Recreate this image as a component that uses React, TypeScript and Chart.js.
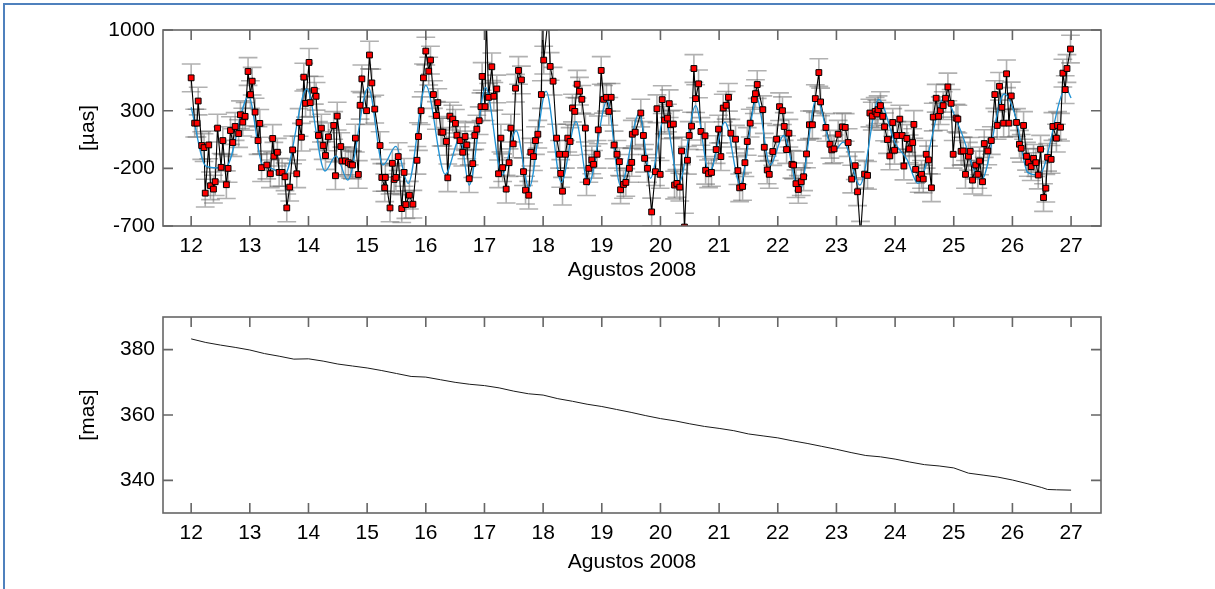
import React, { useEffect, useRef } from "react";
import { Chart, registerables } from "chart.js";

Chart.register(...registerables);

// ---------- Top panel: observed residuals (µas) ----------
const OBS_DAYS: number[] = [
  12.00, 12.06, 12.10, 12.12, 12.18, 12.22, 12.24, 12.30, 12.33, 12.38, 12.41, 12.45, 12.51, 12.54, 12.60, 12.63, 12.67, 12.71, 12.75, 12.81,
  12.84, 12.88, 12.92, 12.97, 13.01, 13.04, 13.09, 13.14, 13.17, 13.20, 13.29, 13.35, 13.39, 13.41, 13.47, 13.50, 13.55, 13.60, 13.63, 13.68,
  13.73, 13.80, 13.84, 13.88, 13.92, 13.95, 14.01, 14.03, 14.10, 14.13, 14.17, 14.22, 14.25, 14.29, 14.34, 14.43, 14.46, 14.49, 14.55, 14.57,
  14.63, 14.68, 14.72, 14.75, 14.80, 14.85, 14.88, 14.91, 14.99, 15.04, 15.08, 15.13, 15.22, 15.25, 15.30, 15.31, 15.39, 15.43, 15.46, 15.49,
  15.53, 15.59, 15.63, 15.66, 15.72, 15.78, 15.85, 15.875, 15.92, 15.96, 16.00, 16.05, 16.08, 16.13, 16.18, 16.205, 16.26, 16.29, 16.35, 16.375,
  16.41, 16.46, 16.505, 16.53, 16.585, 16.63, 16.67, 16.70, 16.74, 16.80, 16.835, 16.87, 16.91, 16.94, 16.96, 17.01, 17.03, 17.07, 17.125, 17.16,
  17.21, 17.24, 17.28, 17.31, 17.37, 17.42, 17.45, 17.49, 17.53, 17.58, 17.63, 17.665, 17.70, 17.755, 17.79, 17.835, 17.87, 17.91, 17.97, 17.99,
  18.01, 18.09, 18.12, 18.17, 18.23, 18.28, 18.30, 18.33, 18.38, 18.42, 18.46, 18.50, 18.54, 18.58, 18.62, 18.66, 18.72, 18.74, 18.78, 18.83,
  18.86, 18.92, 18.94, 18.99, 19.03, 19.08, 19.12, 19.16, 19.21, 19.26, 19.30, 19.32, 19.37, 19.41, 19.47, 19.51, 19.52, 19.57, 19.665, 19.71,
  19.73, 19.78, 19.85, 19.915, 19.94, 19.995, 20.03, 20.07, 20.12, 20.15, 20.17, 20.22, 20.24, 20.28, 20.33, 20.36, 20.41, 20.46, 20.49, 20.53,
  20.57, 20.60, 20.65, 20.69, 20.76, 20.77, 20.82, 20.87, 20.95, 20.99, 21.03, 21.07, 21.12, 21.16, 21.20, 21.28, 21.32, 21.35, 21.40, 21.44,
  21.48, 21.53, 21.60, 21.62, 21.65, 21.745, 21.77, 21.82, 21.855, 21.915, 21.98, 22.03, 22.08, 22.11, 22.15, 22.19, 22.24, 22.27, 22.31, 22.35,
  22.40, 22.44, 22.49, 22.54, 22.59, 22.64, 22.70, 22.73, 22.82, 22.89, 22.92, 22.96, 23.03, 23.10, 23.15, 23.20, 23.26, 23.32, 23.36, 23.41,
  23.48, 23.53, 23.57, 23.61, 23.66, 23.69, 23.71, 23.75, 23.79, 23.82, 23.87, 23.91, 23.96, 23.99, 24.03, 24.08, 24.12, 24.15, 24.20, 24.24,
  24.30, 24.32, 24.35, 24.41, 24.45, 24.48, 24.53, 24.57, 24.62, 24.65, 24.70, 24.74, 24.77, 24.82, 24.86, 24.90, 24.955, 24.99, 25.04, 25.07,
  25.125, 25.16, 25.20, 25.25, 25.28, 25.32, 25.375, 25.41, 25.44, 25.49, 25.52, 25.58, 25.64, 25.70, 25.74, 25.78, 25.82, 25.85, 25.90, 25.94,
  25.98, 26.07, 26.12, 26.15, 26.19, 26.24, 26.27, 26.32, 26.36, 26.40, 26.44, 26.48, 26.53, 26.57, 26.60, 26.66, 26.69, 26.75, 26.77, 26.82,
  26.86, 26.90, 26.93, 26.99,
];

const OBS_UAS: number[] = [
  585, 192, 192, 384, -2, -20, -415, 3, -351, -380, -316, 149, -191, 41, -342, -200, 128, 24, 163, 102,
  265, 201, 251, 640, 440, 556, 288, 41, 190, -194, -171, -247, 59, -95, -60, -235, -235, -273, -543, -363,
  -40, -247, 198, 70, 591, 364, 719, 370, 477, 425, 85, 149, -2, -89, 73, 172, -264, 253, -11, -136,
  -136, -151, -165, -171, 62, -253, 347, 576, 300, 783, 541, 314, -2, -279, -369, -279, -543, -156, -296, -279,
  -98, -549, -235, -514, -433, -511, -130, 76, 300, 585, 817, 643, 739, 440, 259, 370, 114, 114, 33, -282,
  253, 227, 190, 88, 41, -60, 76, 3, -290, -159, 85, 140, 213, 335, 597, 335, 1150, 416, 681, 425,
  489, -247, 62, -194, -380, -151, 149, 12, 495, 649, 567, -229, -389, -433, -60, -98, 41, 96, 440, 1150,
  739, 1120, 684, 556, 62, -78, -244, -398, -78, 62, 33, 323, 294, 530, 469, 399, 149, -316, -200, -127,
  -165, -78, 134, 649, 399, 416, 294, 416, 3, -78, -142, -386, -339, -322, -200, -148, 96, 114, 280, 85,
  -113, -200, -578, -229, 317, -252, 396, 219, 236, 361, 178, 184, -345, -331, -363, -49, -709, -130, 85, 166,
  666, 405, 533, 120, 82, -217, -247, -235, -37, 140, -98, 323, 347, 416, 105, 53, -220, -369, -357, -151,
  33, 192, 396, 448, 527, 309, -17, -214, -252, -54, 53, 335, 300, 163, -37, 105, -165, -171, -333, -383,
  -316, -273, -75, 178, 178, 405, 631, 376, 155, 9, -40, -31, 96, 160, 155, 24, -293, -177, -403, -780,
  -250, -261, 280, 253, 294, 271, 309, 344, 251, 160, 50, -92, 198, -43, 85, 227, 85, -180, 59, -31,
  24, 181, -209, -287, -252, -293, -78, -127, -369, 245, 408, 251, 300, 344, 408, 506, 364, -78, 236, 227,
  -52, -49, -252, -95, -52, -302, -171, -252, -136, -316, 15, -49, 41, 440, 172, 512, 329, 192, 620, 192,
  428, 198, 9, -26, 172, -95, -148, -185, -113, -151, -258, -34, -453, -372, -104, -122, 163, 62, 172, 157,
  626, 483, 666, 835,
];

const ERR_UAS = 120; // half-length of the vertical error bars
const CAP_DAYS = 0.16; // half-width of the error-bar caps

// Model curve (turning points)
const MODEL_DAYS: number[] = [
  12.00, 12.25, 12.45, 12.60, 12.98, 13.21, 13.35, 13.59, 13.97, 14.28, 14.47, 14.67, 15.02, 15.27, 15.49, 15.70,
  16.00, 16.33, 16.585, 16.74, 17.02, 17.30, 17.54, 17.76, 18.05, 18.31, 18.56, 18.77, 19.09, 19.32, 19.64, 19.83,
  20.07, 20.32, 20.60, 20.83, 21.10, 21.36, 21.64, 21.87, 22.10, 22.37, 22.66, 22.95, 23.12, 23.40, 23.72, 24.00,
  24.20, 24.39, 24.84, 25.10, 25.47, 25.86, 26.05, 26.26, 26.45, 26.915, 27.00,
];
const MODEL_UAS: number[] = [
  330, -180, -195, -185, 425, -165, -195, -258, 489, -223, -92, -302, 503, -171, -10, -330,
  520, -252, 62, -345, 503, -258, 126, -369, 469, -322, 207, -345, 387, -351, 280, -287,
  250, -322, 344, -238, 201, -340, 410, -171, 85, -403, 405, -54, 27, -345, 399, 20,
  -120, -331, 410, 150, -302, 445, 255, -235, -258, 492, 410,
];

// ---------- Bottom panel: drift (mas) ----------
const DRIFT_DAYS: number[] = [
  12.00, 12.25, 12.50, 12.75, 13.00, 13.25, 13.50, 13.75, 14.00, 14.25, 14.50, 14.75, 15.00, 15.25, 15.50, 15.75,
  16.00, 16.25, 16.50, 16.75, 17.00, 17.25, 17.50, 17.75, 18.00, 18.25, 18.50, 18.75, 19.00, 19.25, 19.50, 19.75,
  20.00, 20.25, 20.50, 20.75, 21.00, 21.25, 21.50, 21.75, 22.00, 22.25, 22.50, 22.75, 23.00, 23.25, 23.50, 23.75,
  24.00, 24.25, 24.50, 24.75, 25.00, 25.25, 25.50, 25.75, 26.00, 26.25, 26.50, 26.60, 26.75, 27.00,
];
const DRIFT_MAS: number[] = [
  383.3, 382.2, 381.4, 380.7, 379.9, 378.8, 378.0, 377.1, 377.2, 376.5, 375.6, 375.0, 374.4, 373.6, 372.7, 371.8,
  371.6, 370.8, 370.0, 369.4, 369.0, 368.3, 367.3, 366.5, 366.1, 365.0, 364.2, 363.3, 362.6, 361.7, 360.8, 359.8,
  358.9, 358.2, 357.3, 356.5, 355.9, 355.2, 354.2, 353.6, 353.0, 352.1, 351.3, 350.4, 349.5, 348.5, 347.6, 347.2,
  346.5, 345.6, 344.8, 344.4, 343.8, 342.2, 341.6, 341.0, 340.1, 339.0, 337.8, 337.2, 337.1, 337.0,
];

const X_TICKS: number[] = [12, 13, 14, 15, 16, 17, 18, 19, 20, 21, 22, 23, 24, 25, 26, 27];
const Y1_TICKS: number[] = [-700, -200, 300, 1000];
const Y2_TICKS: number[] = [340, 360, 380];
const X_LABEL = "Agustos 2008";

const FONT = '"Liberation Sans", Arial, Helvetica, sans-serif';
const FONT_SIZE = 21;
const AXIS_COLOR = "#666666";

const boxTicksPlugin = {
  id: "boxTicks",
  afterDraw(chart: any) {
    const { ctx, chartArea: a, scales } = chart;
    const x = scales.x;
    const y = scales.y;
    ctx.save();
    ctx.strokeStyle = AXIS_COLOR;
    ctx.lineWidth = 1.6;
    ctx.strokeRect(a.left, a.top, a.right - a.left, a.bottom - a.top);
    ctx.beginPath();
    const L = 10;
    x.ticks.forEach((t: any) => {
      const px = x.getPixelForValue(t.value);
      ctx.moveTo(px, a.bottom);
      ctx.lineTo(px, a.bottom - L);
      ctx.moveTo(px, a.top);
      ctx.lineTo(px, a.top + L);
    });
    y.ticks.forEach((t: any) => {
      const py = y.getPixelForValue(t.value);
      ctx.moveTo(a.left, py);
      ctx.lineTo(a.left + L, py);
      ctx.moveTo(a.right, py);
      ctx.lineTo(a.right - L, py);
    });
    ctx.stroke();
    ctx.restore();
  },
};

const errorBarPlugin = {
  id: "errorBars",
  beforeDatasetsDraw(chart: any) {
    const opts = chart.options.plugins.errorBars;
    if (!opts || !opts.enabled) return;
    const { ctx, chartArea: a, scales } = chart;
    const x = scales.x;
    const y = scales.y;
    ctx.save();
    ctx.beginPath();
    ctx.rect(a.left, a.top, a.right - a.left, a.bottom - a.top);
    ctx.clip();
    ctx.strokeStyle = "rgba(100,100,100,0.5)";
    ctx.lineWidth = 1.6;
    for (let i = 0; i < OBS_DAYS.length; i++) {
      const px = x.getPixelForValue(OBS_DAYS[i]);
      const yt = y.getPixelForValue(OBS_UAS[i] + ERR_UAS);
      const yb = y.getPixelForValue(OBS_UAS[i] - ERR_UAS);
      const xl = x.getPixelForValue(OBS_DAYS[i] - CAP_DAYS);
      const xr = x.getPixelForValue(OBS_DAYS[i] + CAP_DAYS);
      ctx.beginPath();
      ctx.moveTo(px, yt);
      ctx.lineTo(px, yb);
      ctx.moveTo(xl, yt);
      ctx.lineTo(xr, yt);
      ctx.moveTo(xl, yb);
      ctx.lineTo(xr, yb);
      ctx.stroke();
    }
    ctx.restore();
  },
};

function makeScales(yMin: number, yMax: number, yTicks: number[], yTitle: string, xAxisHeight: number, xTitlePad: number) {
  return {
    x: {
      type: "linear",
      min: 11.52,
      max: 27.51,
      grid: { display: false, drawTicks: false },
      border: { display: false },
      afterBuildTicks: (s: any) => {
        s.ticks = X_TICKS.map((v) => ({ value: v }));
      },
      afterFit: (s: any) => {
        s.height = xAxisHeight;
      },
      ticks: {
        color: "#000",
        padding: 8,
        maxRotation: 0,
        autoSkip: false,
        font: { family: FONT, size: FONT_SIZE },
        callback: (v: any) => String(v),
      },
      title: {
        display: true,
        text: X_LABEL,
        color: "#000",
        font: { family: FONT, size: FONT_SIZE },
        padding: { top: 0, bottom: xTitlePad },
      },
    },
    y: {
      type: "linear",
      min: yMin,
      max: yMax,
      grid: { display: false, drawTicks: false },
      border: { display: false },
      afterBuildTicks: (s: any) => {
        s.ticks = yTicks.map((v) => ({ value: v }));
      },
      afterFit: (s: any) => {
        s.width = 163;
      },
      ticks: {
        color: "#000",
        padding: 8,
        autoSkip: false,
        font: { family: FONT, size: FONT_SIZE },
        callback: (v: any) => String(v),
      },
      title: {
        display: true,
        text: yTitle,
        color: "#000",
        font: { family: FONT, size: FONT_SIZE },
        padding: { top: 76, bottom: 0 },
      },
    },
  };
}

export default function App() {
  const topRef = useRef<HTMLCanvasElement | null>(null);
  const botRef = useRef<HTMLCanvasElement | null>(null);

  useEffect(() => {
    const obs = OBS_DAYS.map((d, i) => ({ x: d, y: OBS_UAS[i] }));
    const model = MODEL_DAYS.map((d, i) => ({ x: d, y: MODEL_UAS[i] }));
    const drift = DRIFT_DAYS.map((d, i) => ({ x: d, y: DRIFT_MAS[i] }));

    const top = new Chart(topRef.current as HTMLCanvasElement, {
      type: "scatter",
      data: {
        datasets: [
          {
            label: "obs-markers",
            data: obs,
            showLine: false,
            pointStyle: "rect",
            pointRadius: 4.1,
            pointBackgroundColor: "#ff0000",
            pointBorderColor: "#000000",
            pointBorderWidth: 1,
            order: 1,
          },
          {
            label: "model",
            data: model,
            showLine: true,
            cubicInterpolationMode: "monotone",
            borderColor: "#1f92d4",
            borderWidth: 1.3,
            pointRadius: 0,
            order: 2,
          },
          {
            label: "obs-line",
            data: obs,
            showLine: true,
            borderColor: "#000000",
            borderWidth: 1.1,
            pointRadius: 0,
            tension: 0,
            order: 3,
          },
        ],
      } as any,
      options: {
        responsive: false,
        animation: false,
        events: [],
        layout: { padding: { left: 0, right: 114, top: 30, bottom: 0 } },
        plugins: {
          legend: { display: false },
          tooltip: { enabled: false },
          errorBars: { enabled: true },
        } as any,
        scales: makeScales(-700, 1000, Y1_TICKS, "[\u00b5as]", 61, 4) as any,
      },
      plugins: [errorBarPlugin, boxTicksPlugin],
    });

    const bot = new Chart(botRef.current as HTMLCanvasElement, {
      type: "scatter",
      data: {
        datasets: [
          {
            label: "drift",
            data: drift,
            showLine: true,
            borderColor: "#1a1a1a",
            borderWidth: 1,
            pointRadius: 0,
            tension: 0,
          },
        ],
      } as any,
      options: {
        responsive: false,
        animation: false,
        events: [],
        layout: { padding: { left: 0, right: 114, top: 30, bottom: 0 } },
        plugins: {
          legend: { display: false },
          tooltip: { enabled: false },
        } as any,
        scales: makeScales(330, 390, Y2_TICKS, "[mas]", 76, 14) as any,
      },
      plugins: [boxTicksPlugin],
    });

    return () => {
      top.destroy();
      bot.destroy();
    };
  }, []);

  return (
    <div
      style={{
        position: "fixed",
        left: 0,
        top: 0,
        width: 1215,
        height: 589,
        background: "#ffffff",
        overflow: "hidden",
      }}
    >
      <div
        style={{
          position: "absolute",
          left: 3,
          top: 3,
          width: 1300,
          height: 700,
          borderTop: "2px solid #4f81bd",
          borderLeft: "2px solid #4f81bd",
        }}
      />
      <canvas
        ref={topRef}
        width={1215}
        height={287}
        style={{ position: "absolute", left: 0, top: 0, width: 1215, height: 287 }}
      />
      <canvas
        ref={botRef}
        width={1215}
        height={302}
        style={{ position: "absolute", left: 0, top: 287, width: 1215, height: 302 }}
      />
    </div>
  );
}
